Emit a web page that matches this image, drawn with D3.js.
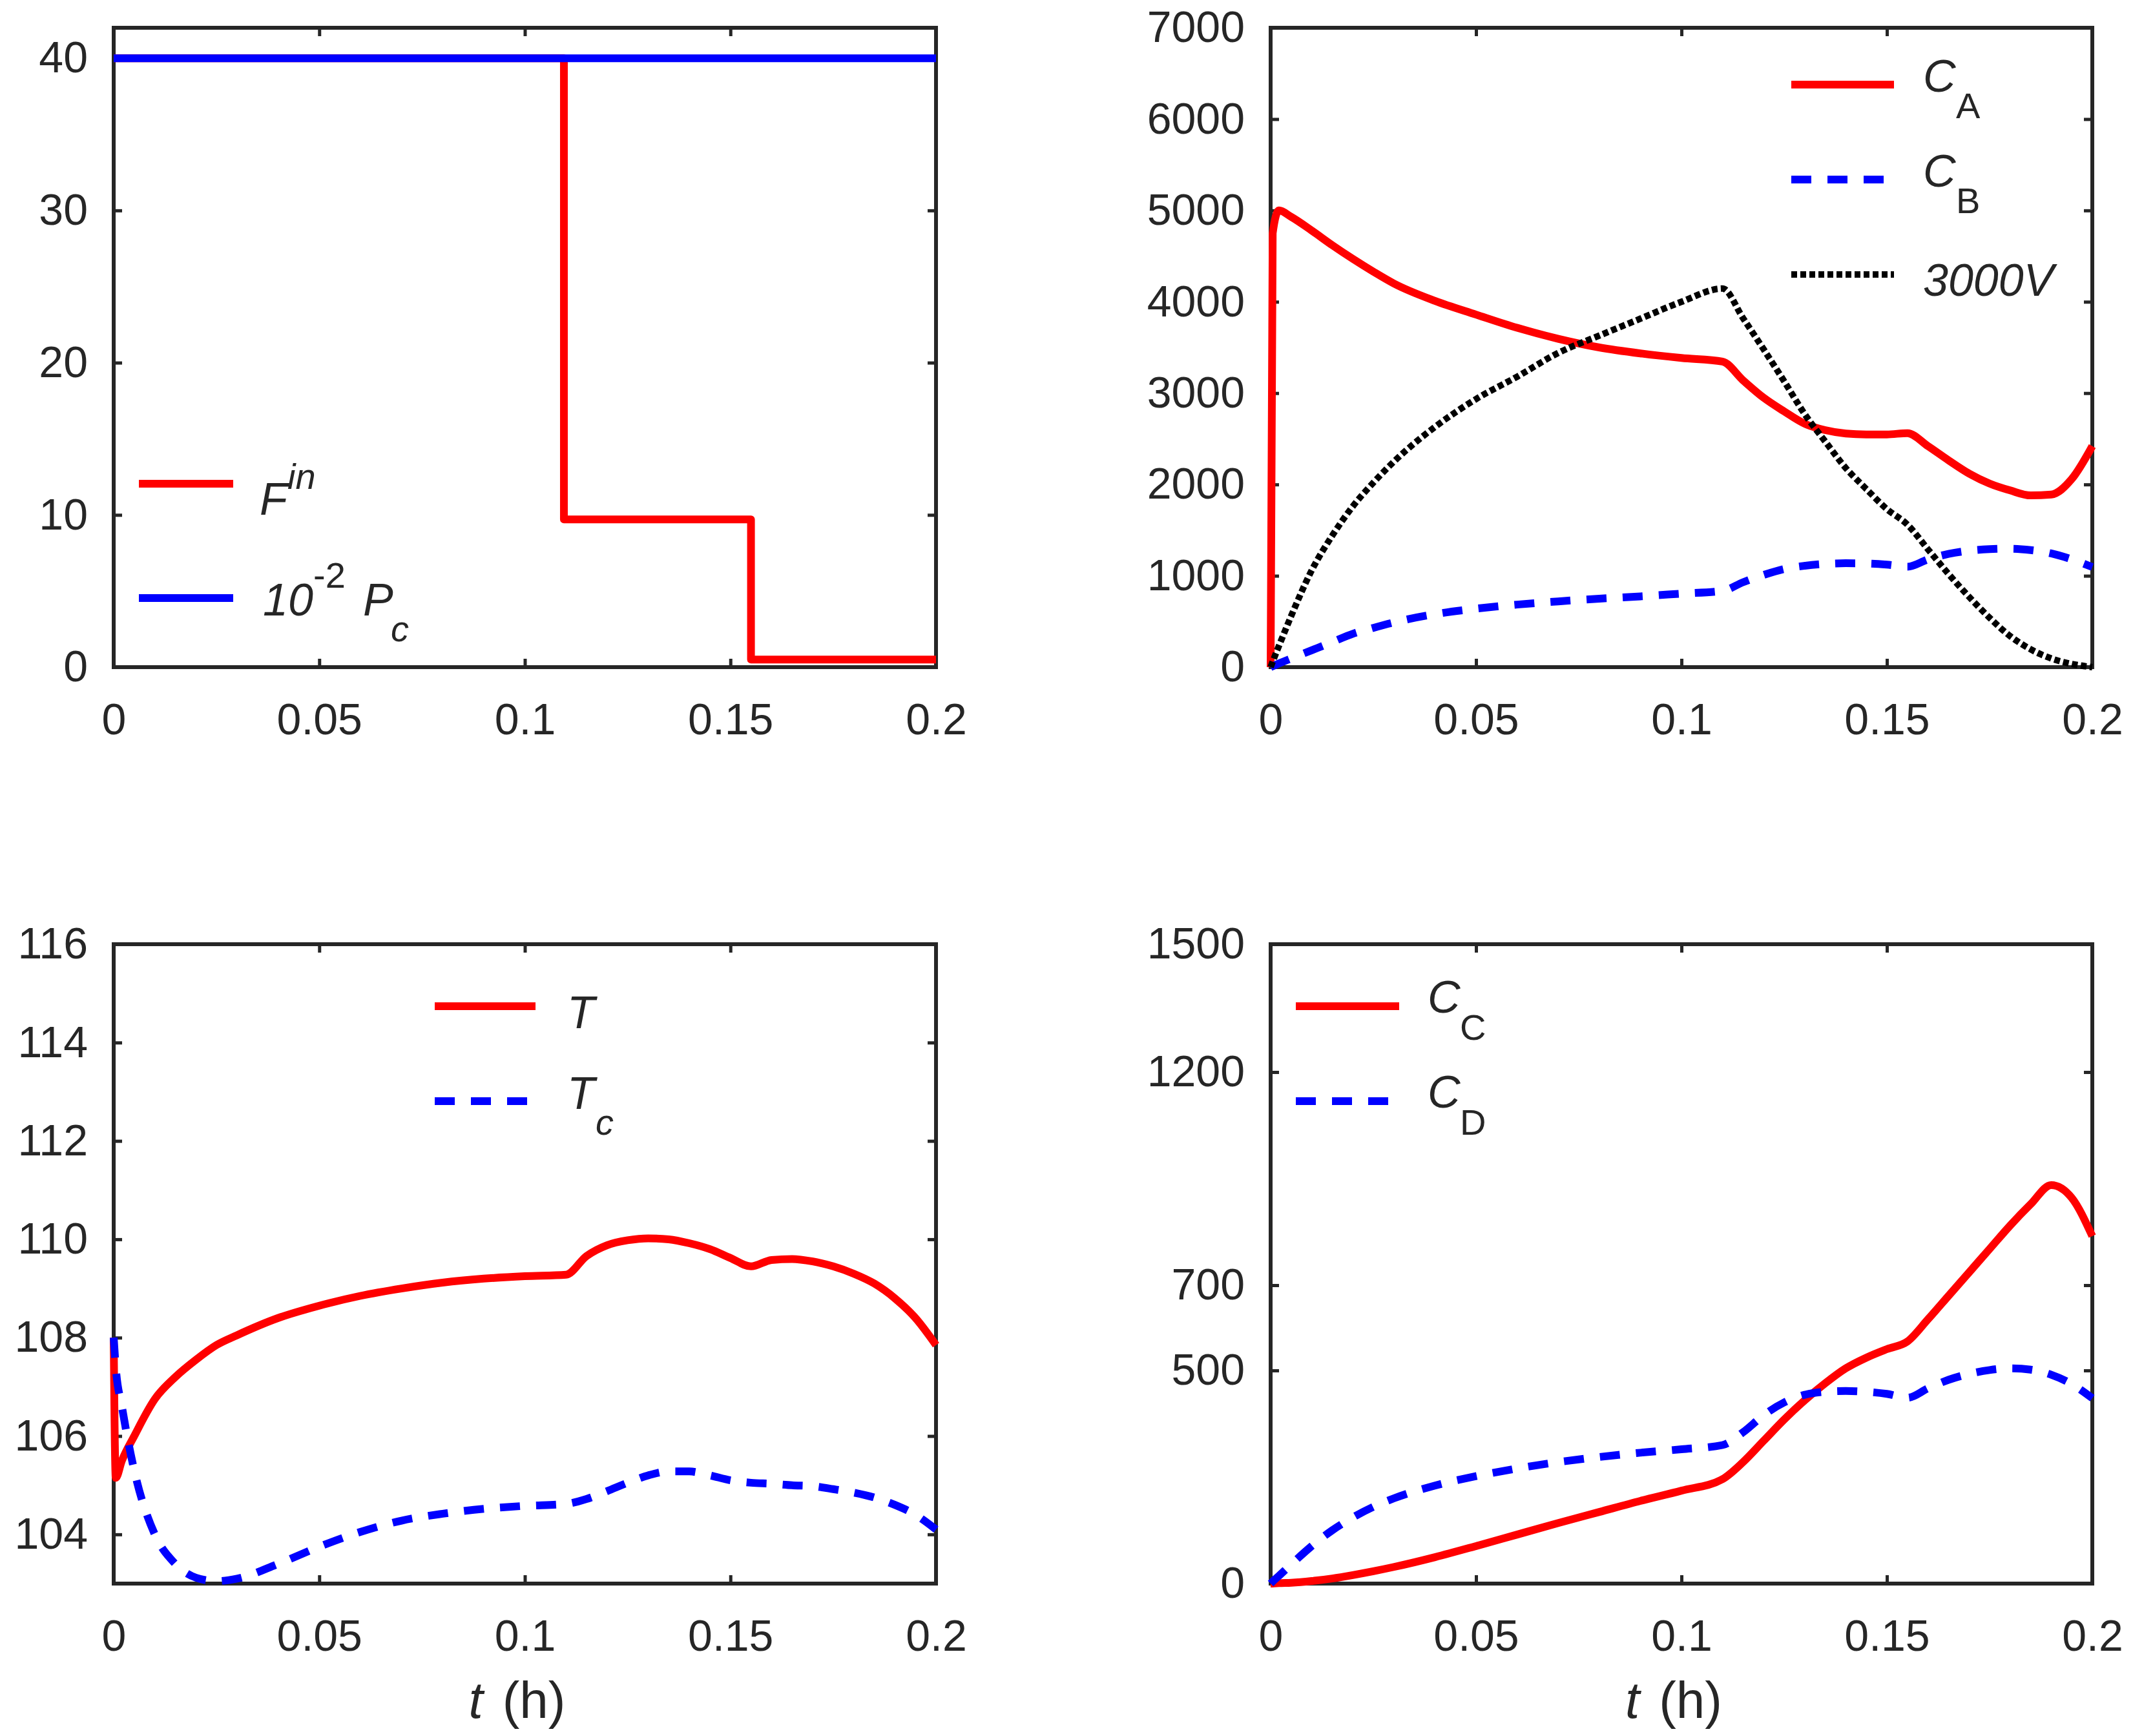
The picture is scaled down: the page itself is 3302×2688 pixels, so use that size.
<!DOCTYPE html>
<html>
<head>
<meta charset="utf-8">
<script src="https://cdn.jsdelivr.net/npm/d3@7"></script>
<style>
  body { margin: 0; background: #fff; }
  text { font-family: "Liberation Sans", Arial, sans-serif; fill: #262626; }
</style>
</head>
<body>
<svg id="chart"></svg>
<script>
// time grid shared by the simulated profiles (h)
const time = [0, 0.0005, 0.002, 0.005, 0.01, 0.015, 0.02, 0.025, 0.03, 0.04, 0.05, 0.06, 0.07, 0.08, 0.09, 0.1,
              0.11, 0.115, 0.12, 0.125, 0.13, 0.135, 0.14, 0.145, 0.15, 0.155, 0.16, 0.165, 0.17, 0.175, 0.18,
              0.185, 0.19, 0.195, 0.2];

// panel 1 : feed flow is piecewise constant, 10^-2 Pc is flat
const fInTime = [0, 0.1095, 0.155, 0.2];
const fIn = [40, 9.7, 0.5, 0.5];
const pcTime = [0, 0.2];
const pcScaled = [40, 40];

// panel 2 : concentrations A, B and 3000*V
const cA = [0, 4750, 5000, 4930, 4780, 4620, 4470, 4330, 4200, 4010, 3860, 3715, 3595, 3500, 3435, 3385,
            3345, 3140, 2950, 2800, 2665, 2595, 2558, 2548, 2548, 2562, 2420, 2265, 2120, 2010, 1935,
            1880, 1890, 2060, 2420];
const cB = [0, 10, 40, 95, 185, 275, 365, 430, 490, 580, 640, 685, 720, 750, 775, 805,
            835, 930, 1010, 1075, 1110, 1130, 1138, 1135, 1122, 1100, 1180, 1240, 1275, 1292, 1297,
            1282, 1245, 1180, 1096];
const vol3000 = [0, 60, 230, 560, 1060, 1440, 1760, 2020, 2250, 2630, 2935, 3180, 3440, 3630, 3815, 4000,
                 4145, 3820, 3480, 3130, 2770, 2470, 2180, 1950, 1730, 1560, 1290, 1020, 770, 540, 340,
                 195, 95, 35, 0];

// panel 3 : reactor and coolant temperatures
const tempT = [108, 105.15, 105.5, 106.0, 106.75, 107.2, 107.55, 107.85, 108.05, 108.4, 108.65, 108.85, 109.0, 109.12, 109.2, 109.25,
               109.28, 109.66, 109.88, 109.98, 110.02, 110.0, 109.92, 109.8, 109.62, 109.45, 109.58, 109.6, 109.55, 109.45, 109.3,
               109.1, 108.8, 108.4, 107.85];
const tempTc = [108, 107.4, 106.6, 105.3, 104.0, 103.4, 103.12, 103.05, 103.1, 103.4, 103.75, 104.05, 104.28, 104.42, 104.52, 104.58,
                104.62, 104.72, 104.88, 105.05, 105.2, 105.28, 105.28, 105.2, 105.1, 105.05, 105.03, 105.0, 104.98, 104.92, 104.85,
                104.75, 104.6, 104.4, 104.1];

// panel 4 : concentrations C and D
const cC = [0, 0, 1, 2, 6, 12, 20, 29, 39, 62, 88, 115, 142, 168, 194, 218,
            245, 285, 335, 385, 430, 470, 505, 530, 550, 568, 620, 675, 730, 785, 840,
            890, 935, 905, 815];
const cD = [0, 5, 18, 45, 88, 125, 155, 180, 200, 230, 252, 270, 285, 297, 307, 315,
            325, 355, 395, 425, 443, 450, 452, 450, 445, 436, 458, 478, 492, 501, 505,
            502, 490, 468, 435];

// ticks
const xTicks = [0, 0.05, 0.1, 0.15, 0.2];
const xTickLabels = ["0", "0.05", "0.1", "0.15", "0.2"];
const yTicks1 = [0, 10, 20, 30, 40];
const yTicks2 = [0, 1000, 2000, 3000, 4000, 5000, 6000, 7000];
const yTicks3 = [104, 106, 108, 110, 112, 114, 116];
const yTicks4 = [0, 500, 700, 1200, 1500];

const width = 3302, height = 2688;
const ink = "#262626";

const svg = d3.select("#chart")
  .attr("width", width)
  .attr("height", height);

// plot boxes
const cols = [{x0: 176, x1: 1449}, {x0: 1967, x1: 3239}];
const rows = [{y0: 43, y1: 1033}, {y0: 1462, y1: 2452}];

const styles = {
  solidRed:  {color: "#ff0000", dash: null},
  solidBlue: {color: "#0000ff", dash: null},
  dashBlue:  {color: "#0000ff", dash: "31,25"},
  dotBlack:  {color: "#000000", dash: "9,5", width: 10}
};

function drawPanel(col, row, yDomain, yTicks, series, legend, xTitle) {
  const x = d3.scaleLinear().domain([0, 0.2]).range([col.x0, col.x1]);
  const y = d3.scaleLinear().domain(yDomain).range([row.y1, row.y0]);
  const g = svg.append("g");

  const fmt = (d, i) => xTickLabels[i];

  // bottom axis with labels, ticks pointing inward
  g.append("g")
    .attr("transform", `translate(0,${row.y1})`)
    .call(d3.axisBottom(x).tickValues(xTicks).tickFormat(fmt).tickSizeInner(-13).tickSizeOuter(0).tickPadding(56));
  g.append("g")
    .attr("transform", `translate(0,${row.y0})`)
    .call(d3.axisTop(x).tickValues(xTicks).tickFormat("").tickSizeInner(-13).tickSizeOuter(0));
  g.append("g")
    .attr("transform", `translate(${col.x0},0)`)
    .call(d3.axisLeft(y).tickValues(yTicks).tickFormat(d3.format("d")).tickSizeInner(-13).tickSizeOuter(0).tickPadding(40));
  g.append("g")
    .attr("transform", `translate(${col.x1},0)`)
    .call(d3.axisRight(y).tickValues(yTicks).tickFormat("").tickSizeInner(-13).tickSizeOuter(0));

  g.selectAll(".domain").remove();
  g.selectAll(".tick line").attr("stroke", ink).attr("stroke-width", 5);
  g.selectAll(".tick text")
    .attr("font-size", 68)
    .attr("font-family", '"Liberation Sans", Arial, sans-serif')
    .attr("fill", ink);

  // frame
  g.append("rect")
    .attr("x", col.x0).attr("y", row.y0)
    .attr("width", col.x1 - col.x0).attr("height", row.y1 - row.y0)
    .attr("fill", "none").attr("stroke", ink).attr("stroke-width", 6);

  // data lines
  series.forEach(s => {
    const st = styles[s.style];
    const line = d3.line()
      .x(d => x(d[0]))
      .y(d => y(d[1]))
      .curve(s.curve || d3.curveMonotoneX);
    g.append("path")
      .datum(d3.zip(s.t, s.v))
      .attr("d", line)
      .attr("fill", "none")
      .attr("stroke", st.color)
      .attr("stroke-width", st.width || 12)
      .attr("stroke-dasharray", st.dash)
      .attr("stroke-linejoin", "round");
  });

  // legend
  legend.forEach(item => {
    const st = styles[item.style];
    g.append("line")
      .attr("x1", item.x1).attr("x2", item.x2)
      .attr("y1", item.y).attr("y2", item.y)
      .attr("stroke", st.color)
      .attr("stroke-width", st.width || 12)
      .attr("stroke-dasharray", st.dash);
    const txt = g.append("text");
    item.parts.forEach(p => {
      txt.append("tspan")
        .attr("x", p.x).attr("y", p.y)
        .attr("font-size", p.size || 70)
        .attr("font-style", p.italic === false ? "normal" : "italic")
        .text(p.text);
    });
  });

  if (xTitle) {
    const cx = (col.x0 + col.x1) / 2 - 12;
    const t = g.append("text")
      .attr("x", cx).attr("y", 2660)
      .attr("text-anchor", "middle")
      .attr("font-size", 80);
    t.append("tspan").attr("font-style", "italic").text("t");
    t.append("tspan").attr("dx", 30).text("(h)");
  }
}

// top left
drawPanel(cols[0], rows[0], [0, 42], yTicks1, [
  {t: fInTime, v: fIn, style: "solidRed", curve: d3.curveStepAfter},
  {t: pcTime, v: pcScaled, style: "solidBlue", curve: d3.curveLinear}
], [
  {style: "solidRed", x1: 215, x2: 361, y: 749, parts: [
    {text: "F", x: 402, y: 797},
    {text: "in", x: 445, y: 757, size: 56}
  ]},
  {style: "solidBlue", x1: 215, x2: 361, y: 926, parts: [
    {text: "10", x: 407, y: 953},
    {text: "-2", x: 485, y: 910, size: 56, italic: false},
    {text: "P", x: 562, y: 953},
    {text: "c", x: 605, y: 993, size: 56}
  ]}
], false);

// top right
drawPanel(cols[1], rows[0], [0, 7000], yTicks2, [
  {t: time, v: cA, style: "solidRed"},
  {t: time, v: cB, style: "dashBlue"},
  {t: time, v: vol3000, style: "dotBlack"}
], [
  {style: "solidRed", x1: 2773, x2: 2932, y: 131, parts: [
    {text: "C", x: 2977, y: 142},
    {text: "A", x: 3028, y: 183, size: 56, italic: false}
  ]},
  {style: "dashBlue", x1: 2773, x2: 2932, y: 278, parts: [
    {text: "C", x: 2977, y: 289},
    {text: "B", x: 3028, y: 330, size: 56, italic: false}
  ]},
  {style: "dotBlack", x1: 2773, x2: 2932, y: 425, parts: [
    {text: "3000V", x: 2977, y: 458}
  ]}
], false);

// bottom left
drawPanel(cols[0], rows[1], [103, 116], yTicks3, [
  {t: time, v: tempT, style: "solidRed"},
  {t: time, v: tempTc, style: "dashBlue"}
], [
  {style: "solidRed", x1: 673, x2: 829, y: 1558, parts: [
    {text: "T", x: 878, y: 1592}
  ]},
  {style: "dashBlue", x1: 673, x2: 829, y: 1705, parts: [
    {text: "T", x: 878, y: 1717},
    {text: "c", x: 922, y: 1757, size: 56}
  ]}
], true);

// bottom right
drawPanel(cols[1], rows[1], [0, 1500], yTicks4, [
  {t: time, v: cC, style: "solidRed"},
  {t: time, v: cD, style: "dashBlue"}
], [
  {style: "solidRed", x1: 2006, x2: 2166, y: 1558, parts: [
    {text: "C", x: 2210, y: 1568},
    {text: "C", x: 2260, y: 1610, size: 56, italic: false}
  ]},
  {style: "dashBlue", x1: 2006, x2: 2166, y: 1705, parts: [
    {text: "C", x: 2210, y: 1715},
    {text: "D", x: 2260, y: 1757, size: 56, italic: false}
  ]}
], true);
</script>
</body>
</html>
